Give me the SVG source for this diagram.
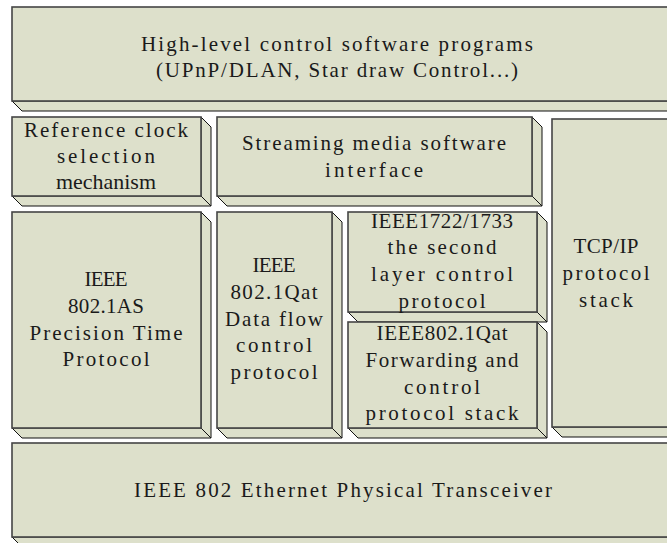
<svg xmlns="http://www.w3.org/2000/svg" width="667" height="543" viewBox="0 0 667 543">
  <style>
    .front { fill: #dde0cb; stroke: #454545; stroke-width: 1.6; }
    .side { fill: #dde0cb; stroke: #111; stroke-width: 1; stroke-linejoin: miter; }
    .label { font-family: "Liberation Serif", "Times New Roman", serif; font-size: 21px; fill: #1a1a1a; text-anchor: middle; }
  </style>
  <rect width="667" height="543" fill="#ffffff"/>

  <!-- 3-D blocks: right face, bottom face, then front face; depth 10px -->
  <g id="high-level-control">
    <polygon class="side" points="12,101 690,101 700,111 22,111"/>
    <rect class="front" x="12" y="7" width="678" height="94"/>
    <text class="label" x="337" y="51" textLength="392" lengthAdjust="spacing">High-level control software programs</text>
    <text class="label" x="337" y="77" textLength="362" lengthAdjust="spacing">(UPnP/DLAN, Star draw Control...)</text>
  </g>

  <g id="reference-clock">
    <polygon class="side" points="201,117 211,127 211,206 201,196"/>
    <polygon class="side" points="12,196 201,196 211,206 22,206"/>
    <rect class="front" x="12" y="117" width="189" height="79"/>
    <text class="label" x="106" y="137" textLength="164" lengthAdjust="spacing">Reference clock</text>
    <text class="label" x="106" y="163" textLength="98" lengthAdjust="spacing">selection</text>
    <text class="label" x="106" y="189" textLength="100" lengthAdjust="spacingAndGlyphs">mechanism</text>
  </g>

  <g id="streaming-interface">
    <polygon class="side" points="532,117 542,127 542,206 532,196"/>
    <polygon class="side" points="217,196 532,196 542,206 227,206"/>
    <rect class="front" x="217" y="117" width="315" height="79"/>
    <text class="label" x="374" y="150" textLength="264" lengthAdjust="spacing">Streaming media software</text>
    <text class="label" x="374" y="176.5" textLength="98" lengthAdjust="spacing">interface</text>
  </g>

  <g id="tcp-ip">
    <polygon class="side" points="552,427 690,427 700,437 562,437"/>
    <rect class="front" x="552" y="119" width="138" height="308"/>
    <text class="label" x="606" y="253" textLength="65" lengthAdjust="spacing">TCP/IP</text>
    <text class="label" x="606" y="280" textLength="87" lengthAdjust="spacing">protocol</text>
    <text class="label" x="606" y="306.5" textLength="54" lengthAdjust="spacing">stack</text>
  </g>

  <g id="ptp-802-1as">
    <polygon class="side" points="201,212 211,222 211,438 201,428"/>
    <polygon class="side" points="12,428 201,428 211,438 22,438"/>
    <rect class="front" x="12" y="212" width="189" height="216"/>
    <text class="label" x="106" y="285.5" textLength="43" lengthAdjust="spacing">IEEE</text>
    <text class="label" x="106" y="312.5" textLength="76" lengthAdjust="spacing">802.1AS</text>
    <text class="label" x="106" y="339.5" textLength="153" lengthAdjust="spacing">Precision Time</text>
    <text class="label" x="106" y="366" textLength="87" lengthAdjust="spacing">Protocol</text>
  </g>

  <g id="data-flow-802-1qat">
    <polygon class="side" points="332,212 342,222 342,438 332,428"/>
    <polygon class="side" points="217,428 332,428 342,438 227,438"/>
    <rect class="front" x="217" y="212" width="115" height="216"/>
    <text class="label" x="274" y="271.5" textLength="43" lengthAdjust="spacing">IEEE</text>
    <text class="label" x="274" y="299" textLength="87" lengthAdjust="spacing">802.1Qat</text>
    <text class="label" x="274" y="325.5" textLength="98" lengthAdjust="spacing">Data flow</text>
    <text class="label" x="274" y="352" textLength="76" lengthAdjust="spacing">control</text>
    <text class="label" x="274" y="379" textLength="87" lengthAdjust="spacing">protocol</text>
  </g>

  <g id="ieee1722-1733">
    <polygon class="side" points="537,212 547,222 547,322 537,312"/>
    <polygon class="side" points="348,312 537,312 547,322 358,322"/>
    <rect class="front" x="348" y="212" width="189" height="100"/>
    <text class="label" x="442" y="228" textLength="142" lengthAdjust="spacing">IEEE1722/1733</text>
    <text class="label" x="442" y="254" textLength="109" lengthAdjust="spacing">the second</text>
    <text class="label" x="442" y="280.5" textLength="142" lengthAdjust="spacing">layer control</text>
    <text class="label" x="442" y="308" textLength="87" lengthAdjust="spacing">protocol</text>
  </g>

  <g id="forwarding-802-1qat">
    <polygon class="side" points="537,322 547,332 547,438 537,428"/>
    <polygon class="side" points="348,428 537,428 547,438 358,438"/>
    <rect class="front" x="348" y="322" width="189" height="106"/>
    <text class="label" x="442" y="340" textLength="131" lengthAdjust="spacing">IEEE802.1Qat</text>
    <text class="label" x="442" y="367" textLength="153" lengthAdjust="spacing">Forwarding and</text>
    <text class="label" x="442" y="394" textLength="76" lengthAdjust="spacing">control</text>
    <text class="label" x="442" y="420" textLength="153" lengthAdjust="spacing">protocol stack</text>
  </g>

  <g id="ethernet-phy">
    <polygon class="side" points="12,537 690,537 700,547 22,547"/>
    <rect class="front" x="12" y="443" width="678" height="94"/>
    <text class="label" x="343" y="496.5" textLength="418" lengthAdjust="spacing">IEEE 802 Ethernet Physical Transceiver</text>
  </g>
</svg>
